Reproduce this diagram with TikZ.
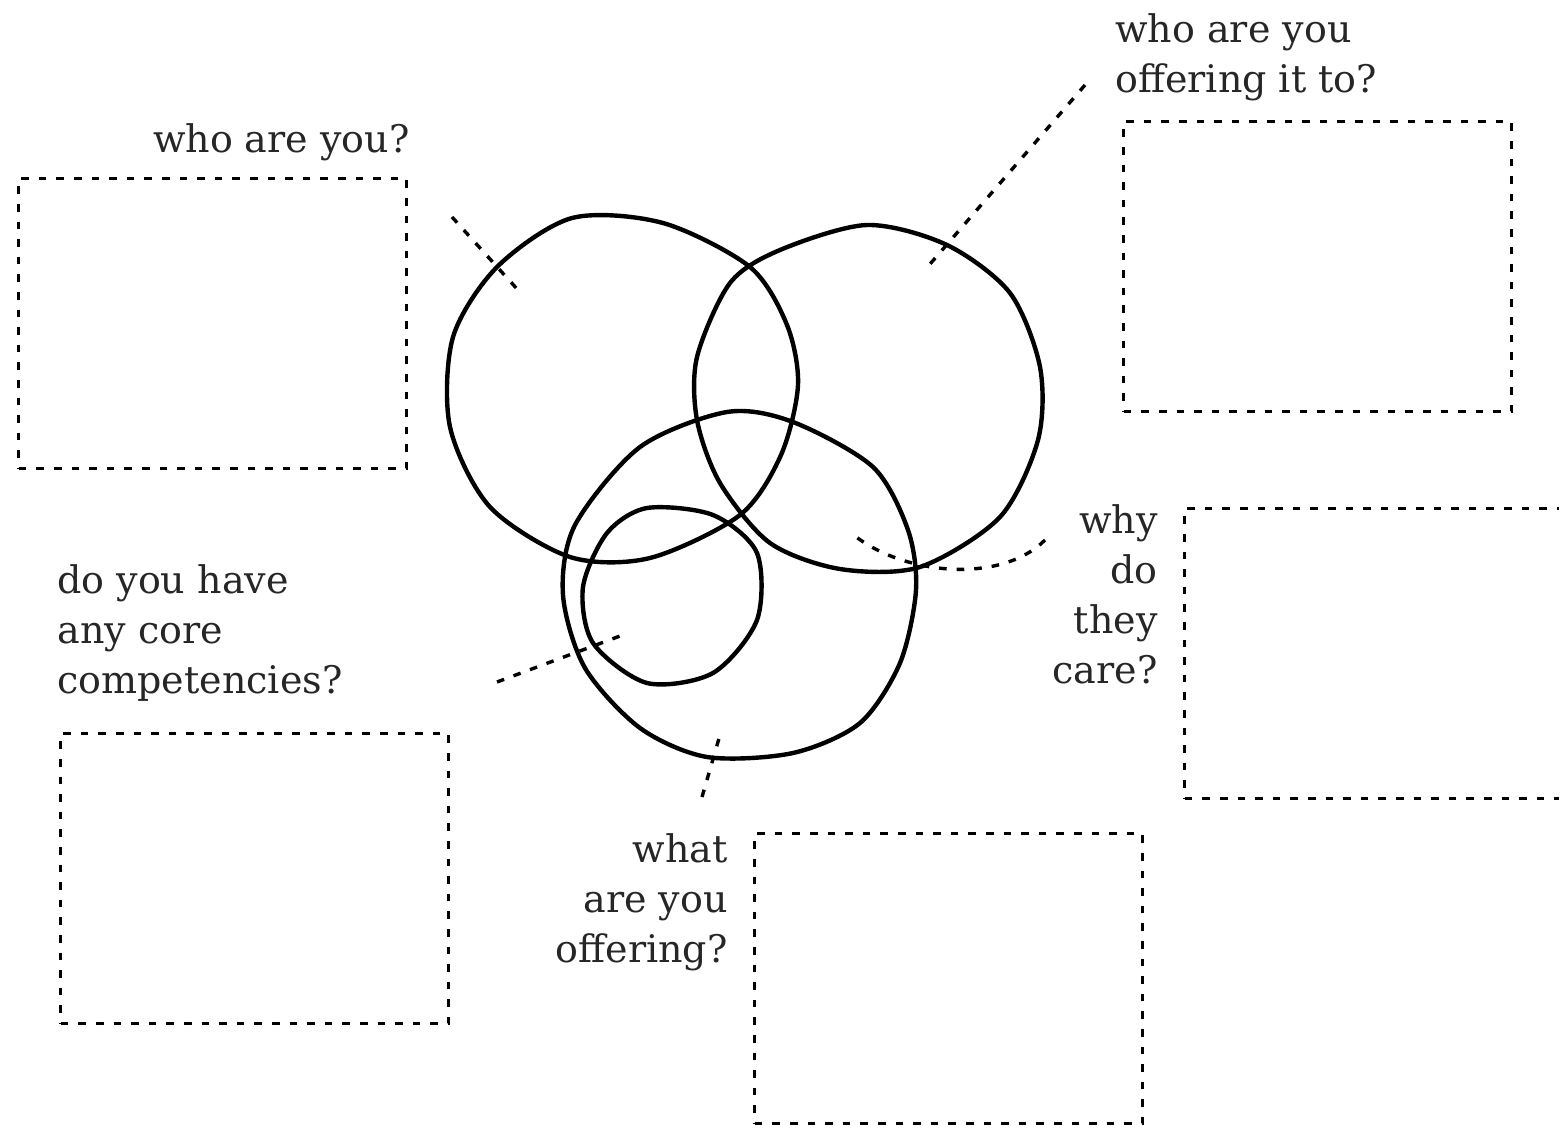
\documentclass[tikz,border=0pt]{standalone}
\usepackage{fontspec}
\setmainfont{DejaVu Serif}
\definecolor{ink}{gray}{0.15}

\begin{document}
\begin{tikzpicture}[x=0.5pt, y=-0.5pt,
    answer/.style={draw, line width=1.7pt, dash pattern=on 3.8pt off 5pt,
        minimum width=194pt, minimum height=145pt, inner sep=0pt, anchor=north west},
    question/.style={text=ink, font=\fontsize{19}{25}\selectfont, inner sep=0pt},
    leader/.style={line width=1.7pt, dash pattern=on 3.8pt off 5pt},
    ring/.style={line width=2.2pt, line join=round}]
    \useasboundingbox (0,0) rectangle (1559,1125);

    % answer boxes
    \node[answer] (b0) at (17,177) {};
    \node[answer] (b1) at (1122,120) {};
    \node[answer] (b2) at (1183,507) {};
    \node[answer] (b3) at (59,732) {};
    \node[answer] (b4) at (753,832) {};

    % questions
    \node[question, anchor=north east] (q0) at (410,123) {who are you?};
    \node[question, anchor=north west, align=left] (q1) at (1115,13) {who are you\\offering it to?};
    \node[question, anchor=north east, align=right] (q2) at (1158,504) {why\\do\\they\\care?};
    \node[question, anchor=north west, align=left] (q3) at (57,564) {do you have\\any core\\competencies?};
    \node[question, anchor=north east, align=right] (q4) at (728,833) {what\\are you\\offering?};

    % the rings
    \draw[ring] plot[smooth cycle] coordinates {(572,218) (663,223) (750,267) (787,325) (798,385)
        (781,455) (740,515) (650,558) (570,557) (490,507) (450,427) (453,337) (497,267)};
    \draw[ring] plot[smooth cycle] coordinates {(697,357) (730,283) (780,250) (867,225) (947,245)
        (1010,293) (1040,367) (1038,440) (1000,517) (920,567) (840,569) (770,543) (720,483) (697,420)};
    \draw[ring] plot[smooth cycle] coordinates {(727,412) (793,422) (873,467) (908,530) (916,590)
        (900,663) (860,723) (793,753) (707,757) (640,728) (585,668) (563,595) (575,525) (640,447)};
    \draw[ring] plot[smooth cycle] coordinates {(647,508) (713,515) (757,553) (757,620) (713,673)
        (647,683) (593,643) (583,587) (607,533)};

    % leaders
    \coordinate (p0) at (452,217);
    \coordinate (r0) at (518,290);
    \coordinate (p1) at (1085,85);
    \coordinate (r1) at (924,271);
    \coordinate (p2) at (1045,540);
    \coordinate (r2) at (850,532);
    \coordinate (p3) at (497,682);
    \coordinate (r3) at (628,633);
    \coordinate (p4) at (702,797);
    \coordinate (r4) at (720,735);
    \draw[leader] (p0) -- (r0);
    \draw[leader] (p1) -- (r1);
    \draw[leader] (p2) .. controls (1000,585) and (900,575) .. (r2);
    \draw[leader] (p3) -- (r3);
    \draw[leader] (p4) -- (r4);
\end{tikzpicture}
\end{document}
